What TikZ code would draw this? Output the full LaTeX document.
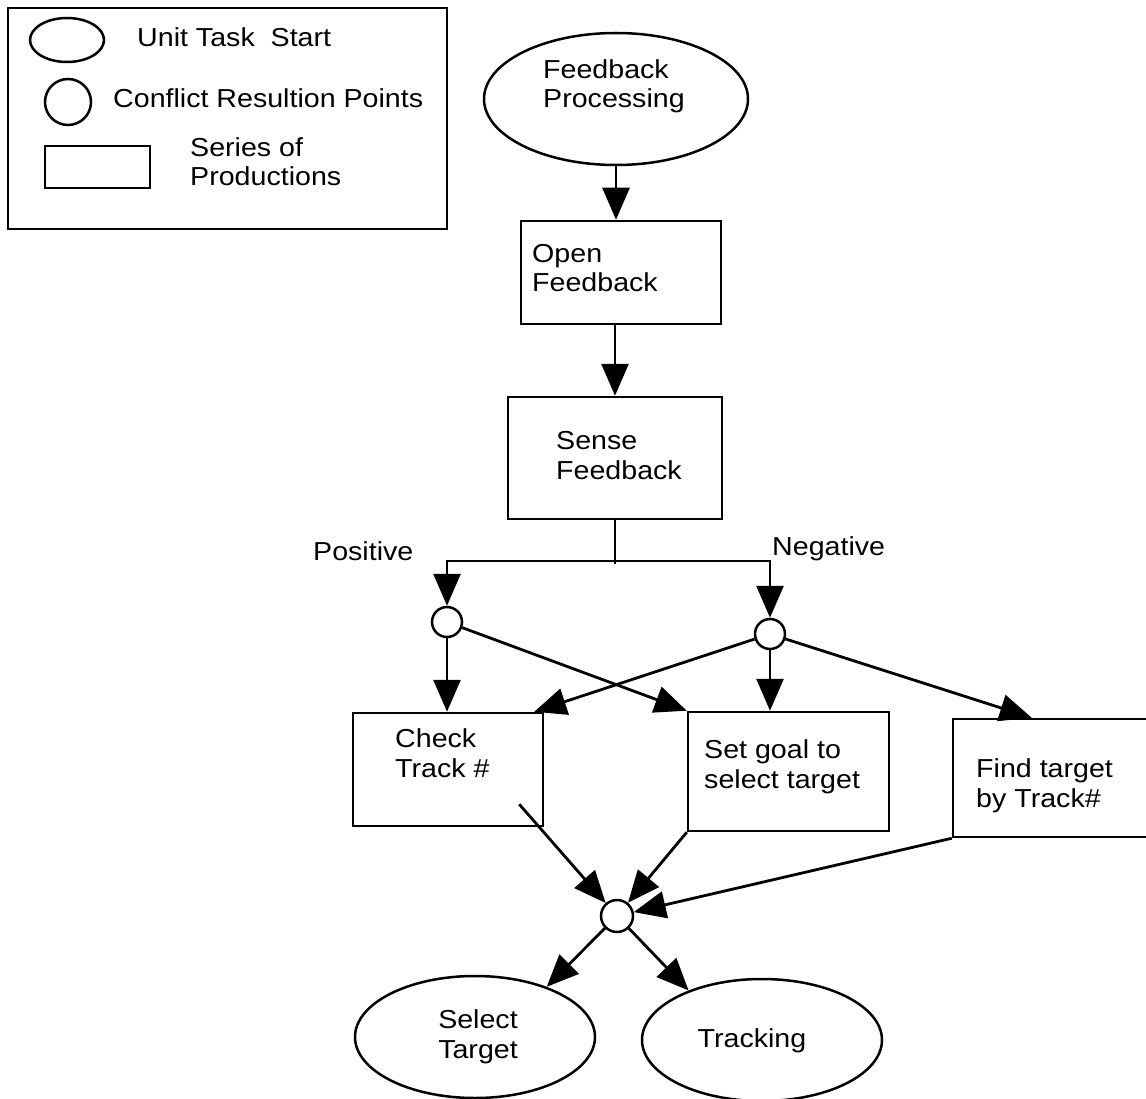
\documentclass[tikz,border=0pt]{standalone}
\usepackage{fontspec}
\setmainfont{Liberation Sans}[FakeStretch=1.1]
\usetikzlibrary{shapes.geometric,arrows.meta}

\tikzset{
  shape line/.style={draw=black, line width=2.5pt},
  task/.style={shape line, ellipse, inner sep=0pt},
  cpoint/.style={shape line, circle, inner sep=0pt},
  prodbox/.style={shape line, rectangle, inner sep=0pt},
  % multi-line labels are placed by the baseline of their last line
  txt/.style={anchor=base west, align=left, inner sep=0pt},
  ctxt/.style={anchor=base, align=center, inner sep=0pt},
  link/.style={draw=black, line width=2.8pt},
  arr/.style={link, -{Triangle[length=32pt,width=27pt]}},
}

\begin{document}
\begin{tikzpicture}[x=1pt, y=-1pt, font=\fontsize{26}{29.5}\selectfont]
\useasboundingbox (0,0) rectangle (1146,1099);

% ---- legend ----
\node[prodbox, minimum width=439pt, minimum height=221pt] (legend) at (227.5,118.5) {};
\node[task, minimum width=74pt, minimum height=44pt] (lgell) at (67,40) {};
\node[txt] (lgelltxt) at (137,47) {Unit Task\ \ Start};
\node[cpoint, minimum size=46pt] (lgcirc) at (68,102) {};
\node[txt] (lgcirctxt) at (113,108) {Conflict Resultion Points};
\node[prodbox, minimum width=105pt, minimum height=42pt] (lgbox) at (97.5,167) {};
\node[txt] (lgboxtxt) at (190,186) {Series of\\Productions};

% ---- main flow ----
\node[task, minimum width=264pt, minimum height=132pt] (fp) at (616,99) {};
\node[txt] (fptxt) at (543,108) {Feedback\\Processing};

\node[prodbox, minimum width=200pt, minimum height=103pt] (open) at (621,272.5) {};
\node[txt] (opentxt) at (532,292) {Open\\Feedback};

\node[prodbox, minimum width=214pt, minimum height=122pt] (sense) at (615,458) {};
\node[txt] (sensetxt) at (556,479) {Sense\\Feedback};

\node[txt] (postxt) at (313,560) {Positive};
\node[txt] (negtxt) at (772,555) {Negative};

\coordinate (split) at (615,561);
\coordinate (splitend) at (615,564);

\node[cpoint, minimum size=30pt] (pos) at (447,622) {};
\node[cpoint, minimum size=30pt] (neg) at (770,634) {};

\node[prodbox, minimum width=190pt, minimum height=113pt] (check) at (448,769.5) {};
\node[txt] (checktxt) at (395,777) {Check\\Track \#};

\node[prodbox, minimum width=201pt, minimum height=119pt] (setgoal) at (788.5,771.5) {};
\node[txt] (setgoaltxt) at (704,788) {Set goal to\\select target};

\node[prodbox, minimum width=197pt, minimum height=118pt] (find) at (1051.5,778) {};
\node[txt] (findtxt) at (976,807) {Find target\\by Track\#};

\node[cpoint, minimum size=32pt] (bot) at (617,916) {};

\node[task, minimum width=240pt, minimum height=122pt] (sel) at (475,1037) {};
\node[ctxt] (seltxt) at (478,1058) {Select\\Target};

\node[task, minimum width=240pt, minimum height=122pt] (trk) at (762,1040) {};
\node[ctxt] (trktxt) at (752,1047) {Tracking};

% ---- connectors ----
\draw[arr] (fp) -- (fp |- open.north);
\draw[arr] (open.south -| sense.north) -- (sense.north);
\draw[link] (sense.south) -- (splitend);
\draw[arr] (split) -| (pos);
\draw[arr] (split) -| (neg);

\draw[arr] (pos) -- (pos |- check.north);
\draw[arr] (pos) -- (setgoal.north west);
\draw[arr] (neg) -- ([xshift=-10pt]check.north east);
\draw[arr] (neg) -- (neg |- setgoal.north);
\draw[arr] (neg) -- ([xshift=80pt]find.north west);

\coordinate (ckout) at ([xshift=-25pt,yshift=23pt]check.south east);
\draw[arr] (ckout) -- (bot);
\draw[arr] (setgoal.south west) -- (bot);
\draw[arr] (find.south west) -- (bot);

\draw[arr] (bot) -- (sel.35);
\draw[arr] (bot) -- (trk.146);
\end{tikzpicture}
\end{document}
